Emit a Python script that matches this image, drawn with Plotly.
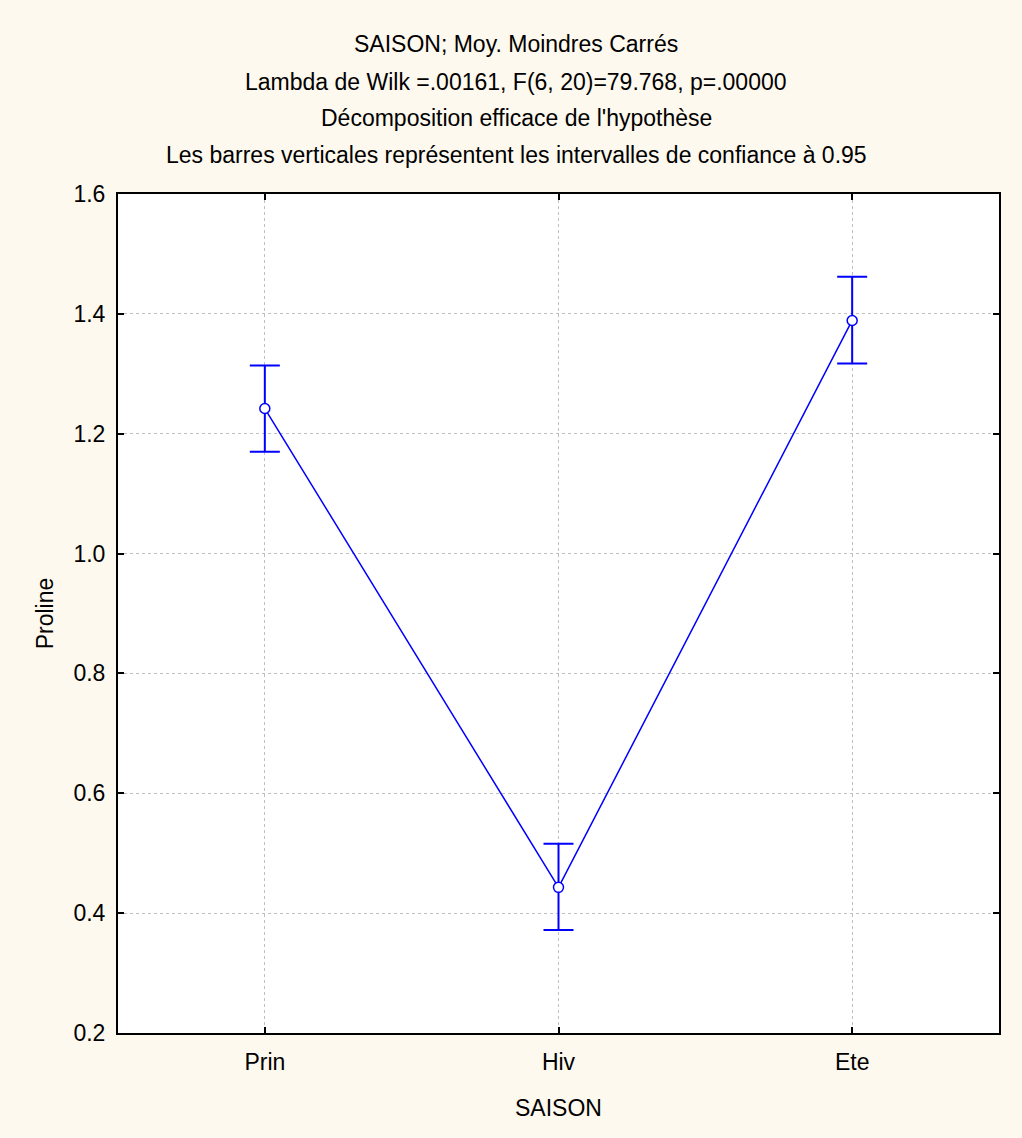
import plotly.graph_objects as go

categories = ["Prin", "Hiv", "Ete"]
means = [1.242, 0.443, 1.389]
ci_upper = [1.314, 0.516, 1.462]
ci_lower = [1.170, 0.372, 1.317]
y_ticks = [0.2, 0.4, 0.6, 0.8, 1.0, 1.2, 1.4, 1.6]

title_lines = [
    "SAISON; Moy. Moindres Carrés",
    "Lambda de Wilk =.00161, F(6, 20)=79.768, p=.00000",
    "Décomposition efficace de l'hypothèse",
    "Les barres verticales représentent les intervalles de confiance à 0.95",
]

err_plus = [u - m for u, m in zip(ci_upper, means)]
err_minus = [m - l for m, l in zip(means, ci_lower)]

FONT = "Liberation Sans"
FS = 23
BLUE = "#0000FF"

fig = go.Figure()
fig.add_trace(go.Scatter(
    x=list(range(len(categories))), y=means,
    mode="lines+markers",
    line=dict(color=BLUE, width=1.5),
    marker=dict(symbol="circle", size=10, color="white", line=dict(color=BLUE, width=1.5)),
    error_y=dict(type="data", symmetric=False, array=err_plus, arrayminus=err_minus,
                 color=BLUE, thickness=2, width=15),
    showlegend=False,
))

L, R, T, B = 118, 23, 194, 105
W, H = 1022, 1138
pw = W - L - R
ph = H - T - B

title_y = [44, 82, 118, 155]
for txt, yp in zip(title_lines, title_y):
    fig.add_annotation(
        text=txt, xref="paper", yref="paper",
        x=(516 - L) / pw, y=(H - B - yp) / ph,
        showarrow=False, xanchor="center", yanchor="middle",
        font=dict(family=FONT, size=FS, color="black"),
    )

fig.update_layout(
    width=W, height=H,
    margin=dict(l=L, r=R, t=T, b=B),
    paper_bgcolor="#FEF9EE",
    plot_bgcolor="white",
    font=dict(family=FONT, size=FS, color="black"),
    xaxis=dict(
        tickvals=list(range(len(categories))), ticktext=categories,
        range=[-0.5, len(categories) - 0.5],
        showgrid=True, gridcolor="#C0C0C0", griddash="dot", gridwidth=1,
        showline=True, linecolor="black", linewidth=2, mirror="ticks",
        ticks="inside", ticklen=6, tickcolor="black", tickwidth=1.5,
        zeroline=False, ticklabelstandoff=7,
        title=dict(text="SAISON", font=dict(size=FS), standoff=26),
        tickfont=dict(size=FS),
    ),
    yaxis=dict(
        tickvals=y_ticks, ticktext=[f"{v:.1f}" for v in y_ticks],
        range=[0.2, 1.6],
        showgrid=True, gridcolor="#C0C0C0", griddash="dot", gridwidth=1,
        showline=True, linecolor="black", linewidth=2, mirror="ticks",
        ticks="inside", ticklen=6, tickcolor="black", tickwidth=1.5,
        zeroline=False, ticklabelstandoff=6,
        title=dict(text="Proline", font=dict(size=FS), standoff=13),
        tickfont=dict(size=FS),
    ),
)

fig.write_html("out.html")
